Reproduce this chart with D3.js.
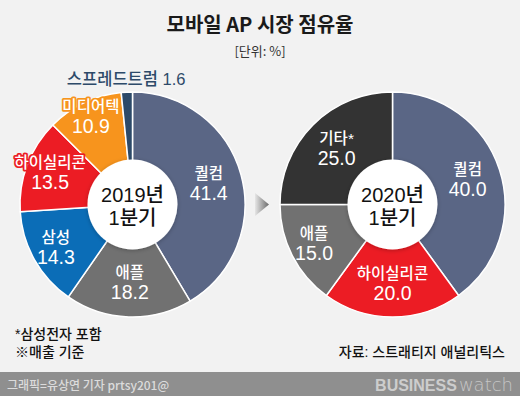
<html>
<head>
<meta charset="utf-8">
<script src="https://cdn.jsdelivr.net/npm/d3@7"></script>
<style>
  body { margin: 0; background: #f2f2f2; }
  text { font-family: "Liberation Sans", "Noto Sans CJK KR", sans-serif; }
</style>
</head>
<body>
<svg id="chart" width="520" height="396"></svg>
<script>
// 2019년 1분기
let names2019 = ["퀄컴", "애플", "삼성", "하이실리콘", "미디어텍", "스프레드트럼"]
let shares2019 = [41.4, 18.2, 14.3, 13.5, 10.9, 1.6]
// 2020년 1분기
let names2020 = ["퀄컴", "하이실리콘", "애플", "기타*"]
let shares2020 = [40.0, 20.0, 15.0, 25.0]

let colors = {
    "퀄컴": "#5a6685",
    "애플": "#717171",
    "삼성": "#0b6db7",
    "하이실리콘": "#ec1c24",
    "미디어텍": "#f7941d",
    "스프레드트럼": "#2d4a69",
    "기타*": "#333333"
}

let svg = d3.select("#chart")
svg.append("rect").attr("width", 520).attr("height", 396).attr("fill", "#f2f2f2")

// drop shadow for the centre disc
let defs = svg.append("defs")
let f = defs.append("filter").attr("id", "shadow").attr("x", "-30%").attr("y", "-30%").attr("width", "160%").attr("height", "160%")
f.append("feDropShadow").attr("dx", 0).attr("dy", 1).attr("stdDeviation", 2).attr("flood-color", "#000").attr("flood-opacity", 0.25)

let grad = defs.append("linearGradient").attr("id", "arrowGrad")
grad.append("stop").attr("offset", "0%").attr("stop-color", "#e6e6e6")
grad.append("stop").attr("offset", "100%").attr("stop-color", "#6a6a6a")

// title
svg.append("text").attr("x", 260).attr("y", 32).attr("text-anchor", "middle")
    .attr("font-size", 20).attr("font-weight", "bold").attr("fill", "#1a1a1a")
    .style("font-family", "'Noto Sans CJK KR', sans-serif")
    .text("모바일 AP 시장 점유율")
svg.append("text").attr("x", 260).attr("y", 56).attr("text-anchor", "middle")
    .attr("font-size", 13).attr("fill", "#333")
    .style("font-family", "'Noto Sans CJK KR', sans-serif")
    .text("[단위: %]")

let R = 112.5
let innerR = 45
let cy = 204.5

let pie = d3.pie().sort(null).value(d => d.value)
let arc = d3.arc().innerRadius(0).outerRadius(R)

function labelRadius(v) {
    if (v < 2) return 126
    if (v < 12) return 97
    if (v < 16) return 88
    return 79
}

function drawDonut(cx, names, values, line1) {
    let data = names.map((n, i) => ({ name: n, value: values[i] }))
    let g = svg.append("g").attr("transform", `translate(${cx},${cy})`)
    let arcs = pie(data)

    g.selectAll("path")
        .data(arcs)
        .enter().append("path")
        .attr("d", arc)
        .attr("fill", d => colors[d.data.name])
        .attr("stroke", "#ffffff")
        .attr("stroke-width", 1.5)

    g.append("circle").attr("r", innerR).attr("fill", "#fff").attr("filter", "url(#shadow)")
    g.append("text").attr("y", -3).attr("text-anchor", "middle").attr("font-size", 20).attr("fill", "#111")
        .attr("font-weight", 500).text(line1)
    g.append("text").attr("y", 20).attr("text-anchor", "middle").attr("font-size", 20).attr("fill", "#111")
        .attr("font-weight", 500).text("1분기")

    let labels = g.selectAll("g.label")
        .data(arcs)
        .enter().append("g").attr("class", "label")
        .attr("transform", d => {
            let c = d3.arc().innerRadius(labelRadius(d.data.value)).outerRadius(labelRadius(d.data.value)).centroid(d)
            return `translate(${c[0]},${c[1]})`
        })

    labels.each(function (d) {
        let lg = d3.select(this)
        if (d.data.value < 2) {
            lg.append("text").attr("y", 6).attr("text-anchor", "middle")
                .attr("font-size", 16.5).attr("font-weight", 500).attr("fill", "#2d4a69")
                .text(d.data.name + " " + d.data.value.toFixed(1))
            return
        }
        let outline = d.data.name == "하이실리콘" || d.data.name == "미디어텍"
        lg.append("text").attr("y", -5).attr("text-anchor", "middle")
            .attr("font-size", 15.5).attr("font-weight", 500).attr("fill", "#fff")
            .attr("stroke", outline ? colors[d.data.name] : "none")
            .attr("stroke-width", 3.5).attr("stroke-linejoin", "round").attr("paint-order", "stroke")
            .text(d.data.name)
        lg.append("text").attr("y", 16).attr("text-anchor", "middle")
            .attr("font-size", 19.5).attr("fill", "#fff")
            .text(d.data.value.toFixed(1))
    })
}

drawDonut(132.5, names2019, shares2019, "2019년")
drawDonut(392.5, names2020, shares2020, "2020년")

// arrow between the pies
svg.append("path").attr("d", "M255,193 L269,204.5 L255,216 Z").attr("fill", "url(#arrowGrad)")

// notes
let notes = svg.append("g").style("font-family", "'Noto Sans CJK KR', sans-serif").attr("font-weight", 500)
notes.append("text").attr("x", 15).attr("y", 339).attr("font-size", 14).attr("fill", "#111").text("*삼성전자 포함")
notes.append("text").attr("x", 15).attr("y", 357).attr("font-size", 14).attr("fill", "#111").text("※매출 기준")
notes.append("text").attr("x", 505).attr("y", 357).attr("text-anchor", "end").attr("font-size", 14).attr("fill", "#111").text("자료: 스트래티지 애널리틱스")

// footer band
svg.append("rect").attr("x", 0).attr("y", 372).attr("width", 520).attr("height", 24).attr("fill", "#8f8f8f")
svg.append("text").attr("x", 7).attr("y", 390).attr("font-size", 12).attr("fill", "#dcdcdc")
    .style("font-family", "'Noto Sans CJK KR', sans-serif").attr("font-weight", 500)
    .text("그래픽=유상연 기자 prtsy201@")
let brand = svg.append("text").attr("x", 513).attr("y", 391).attr("text-anchor", "end")
    .style("font-family", "'Liberation Sans', sans-serif").attr("font-size", 16)
brand.append("tspan").attr("font-weight", "900").attr("fill", "#cdcdcd").text("BUSINESS")
brand.append("tspan").attr("dx", 2).attr("font-weight", "normal").attr("fill", "#c6c6c6").attr("font-size", 18)
    .style("font-family", "'DejaVu Sans', sans-serif").style("font-weight", 200).text("watch")
</script>
</body>
</html>
